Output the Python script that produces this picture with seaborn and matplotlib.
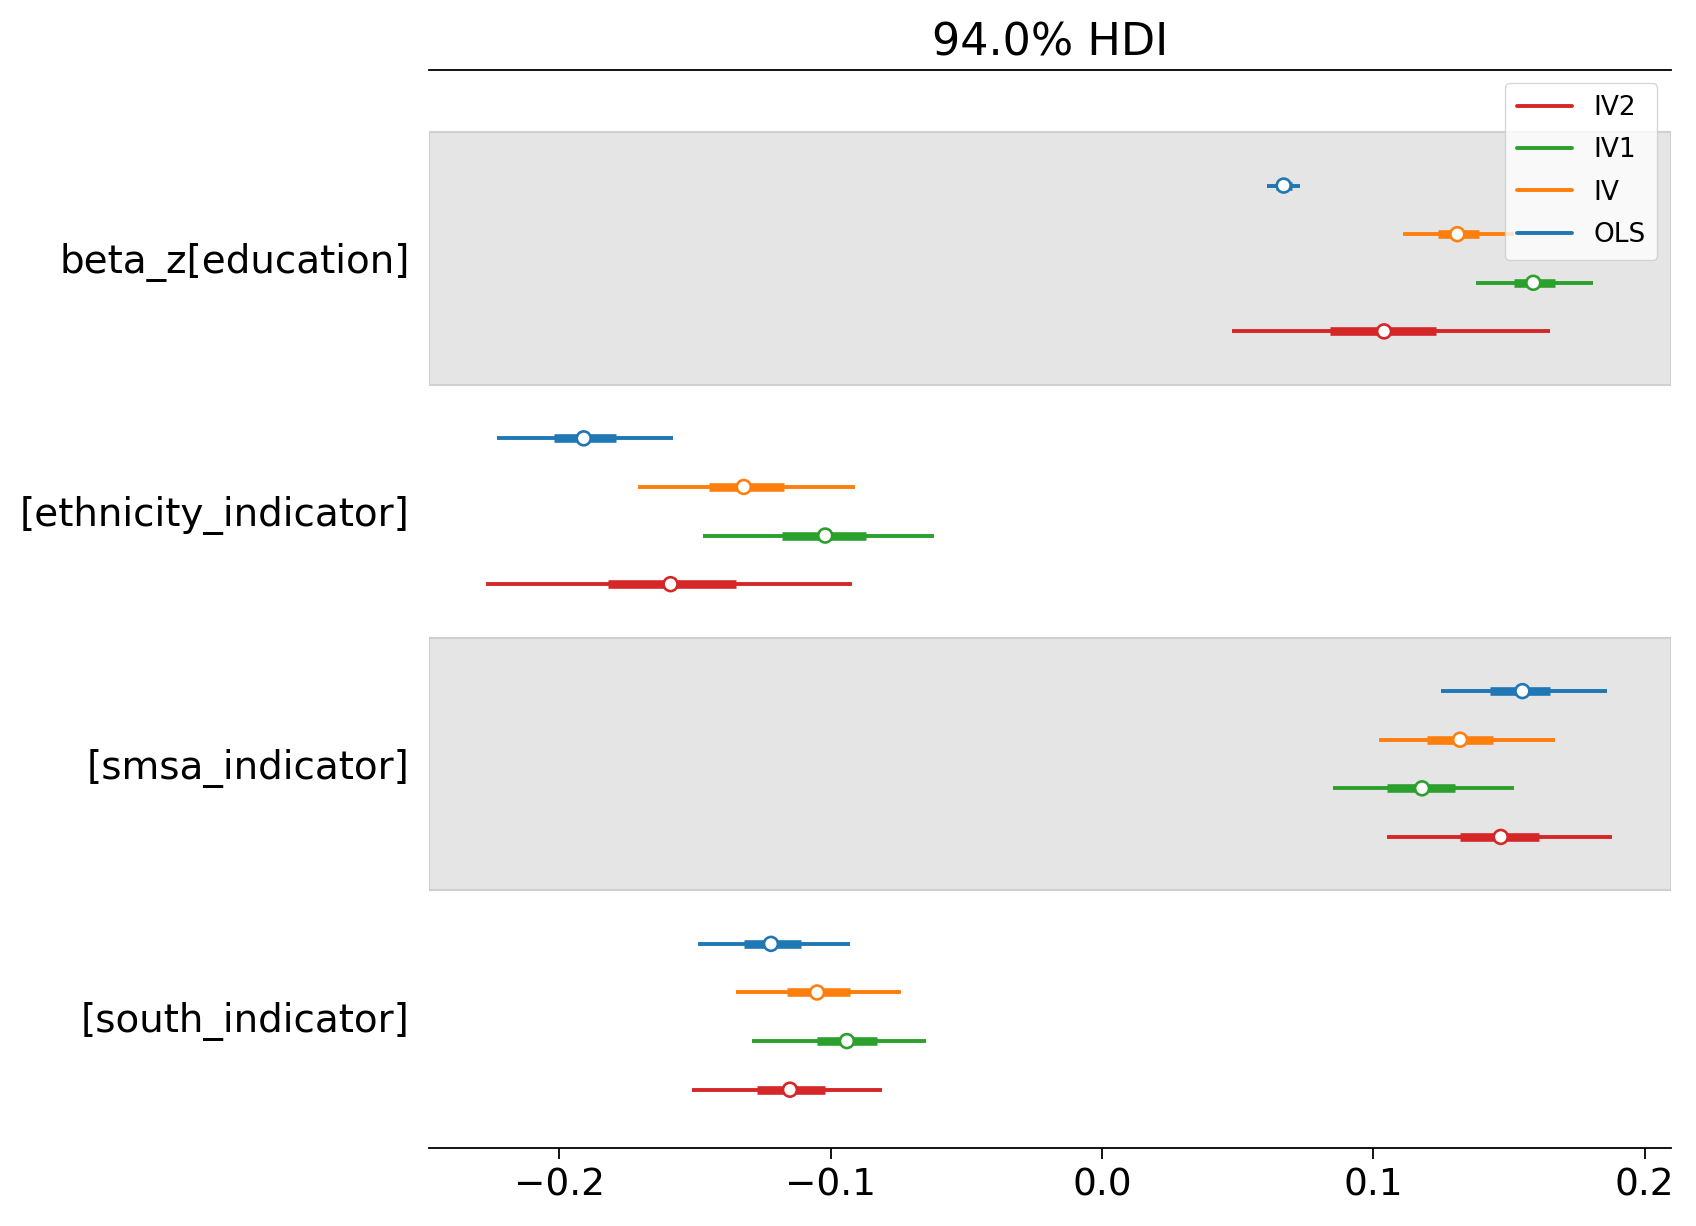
import numpy as np
import pandas as pd
import matplotlib.pyplot as plt
import seaborn as sns
from matplotlib.lines import Line2D

sns.set_style('white')
plt.rcParams['font.family'] = ['DejaVu Sans']
plt.rcParams['text.color'] = 'black'
plt.rcParams['axes.labelcolor'] = 'black'
plt.rcParams['xtick.color'] = 'black'
plt.rcParams['ytick.color'] = 'black'

# ---- data (94% HDI, 50% interval, median) ----
variables = ['beta_z[education]', '[ethnicity_indicator]',
             '[smsa_indicator]', '[south_indicator]']
models = ['OLS', 'IV', 'IV1', 'IV2']
colors = {'OLS': '#1f77b4', 'IV': '#ff7f0e', 'IV1': '#2ca02c', 'IV2': '#d62728'}

# per variable, per model (OLS, IV, IV1, IV2)
hdi_low = [[0.061, 0.111, 0.138, 0.048],
           [-0.223, -0.171, -0.147, -0.227],
           [0.125, 0.102, 0.085, 0.105],
           [-0.149, -0.135, -0.129, -0.151]]
hdi_high = [[0.073, 0.152, 0.181, 0.165],
            [-0.158, -0.091, -0.062, -0.092],
            [0.186, 0.167, 0.152, 0.188],
            [-0.093, -0.074, -0.065, -0.081]]
q25 = [[0.064, 0.124, 0.152, 0.084],
       [-0.202, -0.145, -0.118, -0.182],
       [0.143, 0.120, 0.105, 0.132],
       [-0.132, -0.116, -0.105, -0.127]]
q75 = [[0.070, 0.139, 0.167, 0.123],
       [-0.179, -0.117, -0.087, -0.135],
       [0.165, 0.144, 0.130, 0.161],
       [-0.111, -0.093, -0.083, -0.102]]
median = [[0.067, 0.131, 0.159, 0.104],
          [-0.191, -0.132, -0.102, -0.159],
          [0.155, 0.132, 0.118, 0.147],
          [-0.122, -0.105, -0.094, -0.115]]

# ---- layout ----
row_step = 1.0
group_step = 5.2
rows = []
for g, var in enumerate(variables):
    for j, m in enumerate(models):
        rows.append(dict(var=var, model=m, y=g * group_step + j * row_step,
                         lo=hdi_low[g][j], hi=hdi_high[g][j],
                         q25=q25[g][j], q75=q75[g][j], med=median[g][j]))
df = pd.DataFrame(rows)

fig = plt.figure(figsize=(16.96, 12.26), dpi=100)
ax = fig.add_axes([0.253, 0.0636, 0.732, 0.8794])

# shaded bands on every other variable
half_gap = (group_step - (len(models) - 1) * row_step) / 2
for g in range(0, len(variables), 2):
    y0 = g * group_step - half_gap
    y1 = g * group_step + (len(models) - 1) * row_step + half_gap
    ax.axhspan(y0, y1, facecolor='#e5e5e5', edgecolor='#d0d0d0', lw=1.5, zorder=0)

for m in models:
    sub = df[df['model'] == m]
    ax.hlines(sub['y'], sub['lo'], sub['hi'], color=colors[m], lw=2.8, zorder=2)
    ax.hlines(sub['y'], sub['q25'], sub['q75'], color=colors[m], lw=6.2, zorder=3)

sns.scatterplot(data=df, x='med', y='y', hue='model', palette=colors,
                ax=ax, s=100, linewidth=1.9, zorder=4, legend=False)
pts = ax.collections[-1]
pts.set_facecolor('white')
pts.set_edgecolor([colors[m] for m in df['model']])

last_y = df['y'].max()
ax.set_ylim(last_y + 1.2, -2.38)
ax.set_xlim(-0.248, 0.2096)

centers = [g * group_step + (len(models) - 1) * row_step / 2 for g in range(len(variables))]
ax.set_yticks(centers)
ax.set_yticklabels(variables, fontsize=28)
ax.tick_params(axis='y', length=0, pad=14)
ax.set_xticks([-0.2, -0.1, 0.0, 0.1, 0.2])
ax.tick_params(axis='x', labelsize=27, length=8, width=1.3, direction='out',
               bottom=True, pad=6)
ax.set_xlabel('')
ax.set_ylabel('')

for side in ['left', 'right']:
    ax.spines[side].set_visible(False)
for side in ['top', 'bottom']:
    ax.spines[side].set_visible(True)
    ax.spines[side].set_linewidth(1.3)
    ax.spines[side].set_color('black')

ax.set_title('94.0% HDI', fontsize=32, pad=10)

handles = [Line2D([0], [0], color=colors[m], lw=2.8) for m in models[::-1]]
ax.legend(handles, models[::-1], loc='upper right', fontsize=19,
          bbox_to_anchor=(1.0, 1.0), borderaxespad=0.5, handlelength=2.1,
          borderpad=0.45, labelspacing=0.62, handletextpad=0.8)

fig.savefig('out.png', dpi=100)
